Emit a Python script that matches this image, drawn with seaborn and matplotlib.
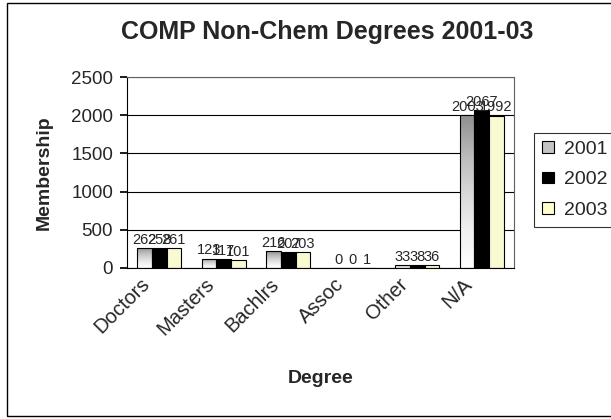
import numpy as np
import pandas as pd
import matplotlib
matplotlib.use("Agg")
import matplotlib.pyplot as plt
import matplotlib.patches as mpatches
import matplotlib.transforms as mtrans
import seaborn as sns

degrees = ["Doctors", "Masters", "Bachlrs", "Assoc", "Other", "N/A"]
years = ["2001", "2002", "2003"]
vals_2001 = [262, 123, 216, 0, 33, 2003]
vals_2002 = [258, 117, 207, 0, 38, 2067]
vals_2003 = [261, 101, 203, 1, 36, 1992]
colors = ["#d9d9d9", "#000000", "#ffffcc"]

df = pd.DataFrame({
    "Degree": degrees * 3,
    "Year": [y for y in years for _ in degrees],
    "Membership": vals_2001 + vals_2002 + vals_2003,
})

sns.set_theme(style="white")
plt.rcParams["font.family"] = ["Liberation Sans", "DejaVu Sans"]

fig = plt.figure(figsize=(6.11, 4.19), dpi=100)
ax = fig.add_axes([127/611, 1-268/419, (514-127)/611, (268-77)/419])

sns.barplot(data=df, x="Degree", y="Membership", hue="Year", palette=colors,
            edgecolor="black", linewidth=0.8, width=0.68, ax=ax, legend=True)

# gradient fill for 2001 bars (grey top -> white bottom)
grad = np.linspace(1.0, 0.0, 256).reshape(-1, 1)
for bar in ax.containers[0]:
    x0, y0 = bar.get_x(), bar.get_y()
    w, h = bar.get_width(), bar.get_height()
    if h <= 0:
        continue
    bar.set_facecolor("none")
    im = ax.imshow(grad, cmap="Greys", vmin=0, vmax=1.9, aspect="auto",
                   extent=[x0, x0 + w, y0, y0 + h], zorder=bar.get_zorder() - 0.1,
                   interpolation="bicubic")
    im.set_clip_path(bar)

for cont in ax.containers:
    ax.bar_label(cont, fontsize=10.5, padding=1)

ax.set_xlim(-0.5, 5.5)
ax.set_ylim(0, 2500)
ax.set_yticks(range(0, 2501, 500))
ax.yaxis.grid(True, color="black", lw=0.8)
ax.set_axisbelow(True)
for s in ax.spines.values():
    s.set_color("#606060")
    s.set_linewidth(0.8)
ax.spines["left"].set_color("black")
ax.spines["bottom"].set_color("black")

ax.set_xticks(np.arange(len(degrees)))
ax.set_xticklabels(degrees, rotation=45, ha="right", rotation_mode="anchor", fontsize=14.5)
ax.set_xticks(np.arange(-0.5, 6.0, 1.0), minor=True)
ax.tick_params(axis="x", which="major", length=0, pad=9)
ax.tick_params(axis="x", which="minor", length=5, color="black", direction="out")
ax.tick_params(axis="y", length=5, color="black", direction="out", labelsize=13.5, pad=5)
ax.tick_params(left=True, bottom=True)
shift = mtrans.ScaledTranslation(-19/100, 6/100, fig.dpi_scale_trans)
for lab in ax.get_xticklabels():
    lab.set_transform(lab.get_transform() + shift)

ax.set_xlabel("Degree", fontsize=14, fontweight="bold")
ax.xaxis.set_label_coords(0.5, -(370 - 268) / 191)
ax.set_ylabel("Membership", fontsize=14, fontweight="bold")
ax.yaxis.set_label_coords((53 - 127) / 387, 0.5)

fig.text(327/611, 1-32/419, "COMP Non-Chem Degrees 2001-03", ha="center", va="center",
         fontsize=18, fontweight="bold")

ax.get_legend().remove()
handles = [mpatches.Patch(facecolor=c, edgecolor="black", lw=0.8) for c in ["#c4c4c4", "#000000", "#ffffcc"]]
leg = fig.legend(handles, years, loc="upper left",
                 bbox_to_anchor=(534/611, 1-133/419), fontsize=14,
                 handlelength=0.65, handleheight=0.55, handletextpad=0.5,
                 labelspacing=0.7, borderpad=0.4, borderaxespad=0,
                 frameon=True, fancybox=False)
leg.get_frame().set_edgecolor("black")
leg.get_frame().set_linewidth(0.8)

fig.patches.append(mpatches.Rectangle((7/611, 3/419), 660/611, 413/419, fill=False,
                                      edgecolor="black", lw=1.0, transform=fig.transFigure))

fig.savefig("out.png", dpi=100)
